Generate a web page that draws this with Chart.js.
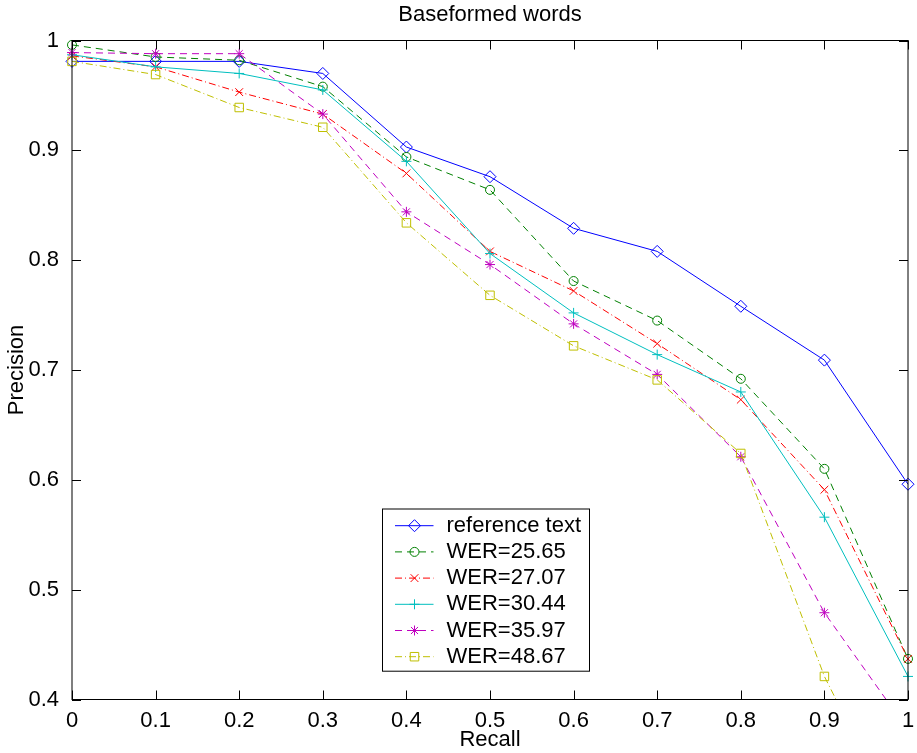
<!DOCTYPE html>
<html>
<head>
<meta charset="utf-8">
<title>Baseformed words</title>
<script src="https://cdn.jsdelivr.net/npm/chart.js@4.4.1/dist/chart.umd.min.js"></script>
<style>
  html, body { margin: 0; padding: 0; background: #fff; }
  #wrap { width: 917px; height: 753px; }
</style>
</head>
<body>
<div id="wrap"><canvas id="chart" width="917" height="753"></canvas></div>
<script>
// === DATA ===
const recall = [0, 0.1, 0.2, 0.3, 0.4, 0.5, 0.6, 0.7, 0.8, 0.9, 1];

const refText = [0.981, 0.981, 0.981, 0.970, 0.903, 0.876, 0.829, 0.808, 0.758, 0.709, 0.596];
const wer2565 = [0.996, 0.985, 0.982, 0.958, 0.894, 0.864, 0.781, 0.745, 0.692, 0.610, 0.437];
const wer2707 = [0.986, 0.976, 0.953, 0.933, 0.879, 0.808, 0.772, 0.724, 0.673, 0.591, 0.437];
const wer3044 = [0.987, 0.976, 0.970, 0.955, 0.890, 0.806, 0.752, 0.714, 0.680, 0.566, 0.421];
const wer3597 = [0.989, 0.988, 0.988, 0.933, 0.844, 0.796, 0.742, 0.696, 0.621, 0.479, 0.372];
const wer4867 = [0.981, 0.969, 0.939, 0.921, 0.834, 0.768, 0.722, 0.691, 0.624, 0.421, 0.270];

const seriesLabels = ["reference text", "WER=25.65", "WER=27.07", "WER=30.44", "WER=35.97", "WER=48.67"];

const xTicks = [0, 0.1, 0.2, 0.3, 0.4, 0.5, 0.6, 0.7, 0.8, 0.9, 1];
const xTickLabels = ["0", "0.1", "0.2", "0.3", "0.4", "0.5", "0.6", "0.7", "0.8", "0.9", "1"];
const yTicks = [0.4, 0.5, 0.6, 0.7, 0.8, 0.9, 1];
const yTickLabels = ["0.4", "0.5", "0.6", "0.7", "0.8", "0.9", "1"];
// =================

const FONT = '"Liberation Sans", Arial, Helvetica, sans-serif';

function pts(vals) { return recall.map((r, i) => ({ x: r, y: vals[i] })); }

// old matlab colour order + line/marker specs
const styles = [
  { color: "#0000ff", dash: [],           marker: "rectRot",  r: 6   },
  { color: "#008000", dash: [7, 5],       marker: "circle",   r: 4.5 },
  { color: "#ff0000", dash: [7, 3, 1, 3], marker: "crossRot", r: 5.5 },
  { color: "#00bfbf", dash: [],           marker: "cross",    r: 5   },
  { color: "#bf00bf", dash: [7, 5],       marker: "star",     r: 5   },
  { color: "#bfbf00", dash: [7, 3, 1, 3], marker: "rect",     r: 6   }
];
const allSeries = [refText, wer2565, wer2707, wer3044, wer3597, wer4867];

const datasets = allSeries.map((vals, i) => ({
  label: seriesLabels[i],
  data: pts(vals),
  borderColor: styles[i].color,
  borderWidth: 1,
  borderDash: styles[i].dash,
  pointStyle: styles[i].marker,
  pointRadius: styles[i].r,
  pointBorderColor: styles[i].color,
  pointBackgroundColor: "rgba(0,0,0,0)",
  pointBorderWidth: 1,
  tension: 0,
  fill: false,
  order: allSeries.length - i, // later series on top, like matlab
  clip: { left: 10, right: 10, top: 10, bottom: 0 }
}));

// axes box with inward ticks on all four sides
const boxTicks = {
  id: "boxTicks",
  afterDatasetsDraw(chart, args, opts) {
    const { ctx, chartArea: a, scales: { x, y } } = chart;
    const L = opts.len;
    ctx.save();
    ctx.strokeStyle = "#000";
    ctx.lineWidth = 1;
    ctx.setLineDash([]);
    ctx.strokeRect(a.left, a.top, a.right - a.left, a.bottom - a.top);
    ctx.beginPath();
    x.ticks.forEach(t => {
      const px = Math.round(x.getPixelForValue(t.value)) + 0.5;
      ctx.moveTo(px, a.bottom); ctx.lineTo(px, a.bottom - L);
      ctx.moveTo(px, a.top); ctx.lineTo(px, a.top + L);
    });
    y.ticks.forEach(t => {
      const py = Math.round(y.getPixelForValue(t.value)) + 0.5;
      ctx.moveTo(a.left, py); ctx.lineTo(a.left + L, py);
      ctx.moveTo(a.right, py); ctx.lineTo(a.right - L, py);
    });
    ctx.stroke();
    ctx.restore();
  }
};

// matlab style legend: line sample with marker in the middle
const matlabLegend = {
  id: "matlabLegend",
  afterDraw(chart, args, o) {
    const ctx = chart.ctx;
    const sets = chart.data.datasets;
    const h = o.padTop + sets.length * o.rowHeight + o.padBottom;
    ctx.save();
    ctx.fillStyle = "#fff";
    ctx.fillRect(o.left, o.top, o.width, h);
    ctx.strokeStyle = "#000";
    ctx.lineWidth = 1;
    ctx.strokeRect(o.left, o.top, o.width, h);
    sets.forEach((ds, i) => {
      const y = o.top + o.padTop + (i + 0.5) * o.rowHeight;
      ctx.strokeStyle = ds.borderColor;
      ctx.lineWidth = ds.borderWidth;
      ctx.setLineDash(ds.borderDash);
      ctx.beginPath();
      ctx.moveTo(o.left + o.lineStart, y);
      ctx.lineTo(o.left + o.lineEnd, y);
      ctx.stroke();
      ctx.setLineDash([]);
      ctx.fillStyle = "rgba(0,0,0,0)";
      if (Chart.helpers && Chart.helpers.drawPoint) {
        Chart.helpers.drawPoint(ctx, {
          pointStyle: ds.pointStyle, radius: ds.pointRadius, borderWidth: 1, rotation: 0
        }, o.left + o.markerX, y);
      }
      ctx.fillStyle = "#000";
      ctx.font = o.font;
      ctx.textBaseline = "middle";
      ctx.textAlign = "left";
      ctx.fillText(ds.label, o.left + o.textX, y);
    });
    ctx.restore();
  }
};

// fixed axis boxes so the plot area lands where matlab put it
function fixBox(size, key) {
  return s => {
    s[key] = size;
    s.paddingLeft = s.paddingRight = s.paddingTop = s.paddingBottom = 0;
  };
}

new Chart(document.getElementById("chart"), {
  type: "line",
  data: { datasets },
  plugins: [boxTicks, matlabLegend],
  options: {
    responsive: false,
    animation: false,
    devicePixelRatio: 1,
    layout: { padding: { left: 0, right: 9, top: 0, bottom: 0 } },
    plugins: {
      legend: { display: false },
      tooltip: { enabled: false },
      title: { display: false },
      boxTicks: { len: 9 },
      matlabLegend: {
        left: 382.5, top: 509, width: 207,
        padTop: 3.6, rowHeight: 26.2, padBottom: 1.4,
        lineStart: 12.5, lineEnd: 51, markerX: 32, textX: 64,
        font: "22px " + FONT
      }
    },
    scales: {
      // top axis only carries the title so it centres over the plot box
      top: {
        type: "linear",
        position: "top",
        min: 0, max: 1,
        afterFit: fixBox(40.5, "height"),
        ticks: { display: false },
        grid: { display: false },
        border: { display: false },
        title: {
          display: true, text: "Baseformed words", color: "#000",
          font: { family: FONT, size: 22 },
          padding: { top: 2, bottom: 0 }
        }
      },
      x: {
        type: "linear",
        position: "bottom",
        min: 0, max: 1,
        afterBuildTicks: s => { s.ticks = xTicks.map(v => ({ value: v })); },
        afterFit: fixBox(53.5, "height"),
        ticks: {
          color: "#000",
          padding: 0,
          maxRotation: 0,
          autoSkip: false,
          font: { family: FONT, size: 22 },
          callback: (v, i) => xTickLabels[i]
        },
        grid: { display: false },
        border: { display: false },
        title: {
          display: true, text: "Recall", color: "#000",
          font: { family: FONT, size: 22 },
          padding: { top: 0, bottom: 0 }
        }
      },
      y: {
        type: "linear",
        min: 0.4, max: 1,
        afterBuildTicks: s => { s.ticks = yTicks.map(v => ({ value: v })); },
        afterFit: fixBox(72, "width"),
        ticks: {
          color: "#000",
          padding: 5,
          autoSkip: false,
          font: { family: FONT, size: 22 },
          callback: (v, i) => yTickLabels[i]
        },
        grid: { display: false },
        border: { display: false },
        title: {
          display: true, text: "Precision", color: "#000",
          font: { family: FONT, size: 22 },
          padding: { top: 4, bottom: 0 }
        }
      }
    }
  }
});
</script>
</body>
</html>
